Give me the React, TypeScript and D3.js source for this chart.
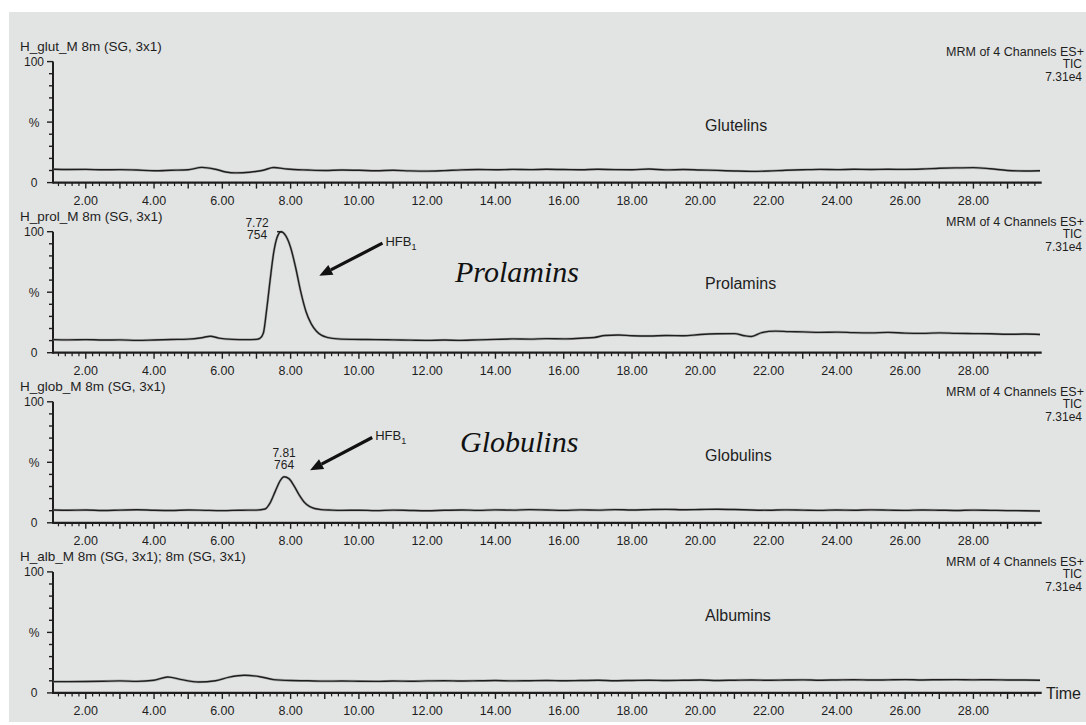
import React from "react";
import * as d3 from "d3";

type Pt = [number, number]; // [retention time (min), relative intensity (%)]

// ---- Trace data (time, %) ----
const glutelins: Pt[] = [
  [1.05, 11.0], [1.5, 10.8], [2.0, 10.9], [2.5, 10.6], [3.0, 10.7], [3.5, 10.4], [4.0, 9.8],
  [4.5, 10.2], [5.0, 10.6], [5.4, 12.6], [5.8, 11.0], [6.1, 8.8], [6.4, 8.0], [6.8, 8.6],
  [7.2, 10.2], [7.5, 12.5], [7.9, 11.2], [8.5, 10.4], [9.0, 10.0], [9.5, 10.4], [10.0, 10.2],
  [10.5, 9.8], [11.0, 10.2], [11.5, 9.7], [12.0, 9.5], [12.5, 9.9], [13.0, 10.5], [13.5, 10.8],
  [14.0, 10.6], [14.5, 10.9], [15.0, 10.7], [15.5, 11.0], [16.0, 10.8], [16.5, 10.6], [17.0, 11.0],
  [17.5, 10.7], [18.0, 10.6], [18.5, 11.2], [19.0, 10.5], [19.5, 10.8], [20.0, 10.4], [20.5, 10.1],
  [21.0, 9.6], [21.5, 9.3], [22.0, 9.6], [22.5, 10.2], [23.0, 10.6], [23.5, 10.9], [24.0, 10.7],
  [24.5, 11.0], [25.0, 10.8], [25.5, 11.0], [26.0, 10.9], [26.5, 11.2], [27.0, 11.8], [27.5, 12.2],
  [28.0, 12.4], [28.5, 11.4], [29.0, 10.0], [29.5, 9.6], [29.95, 9.8],
];

const prolamins: Pt[] = [
  [1.05, 10.8], [1.5, 10.6], [2.0, 10.8], [2.5, 10.5], [3.0, 10.6], [3.5, 10.2], [4.0, 10.5],
  [4.5, 10.9], [5.0, 11.2], [5.4, 12.4], [5.65, 13.6], [5.9, 12.0], [6.3, 11.0], [6.7, 10.8],
  [7.0, 11.0], [7.1, 11.8], [7.2, 16], [7.3, 36], [7.4, 60], [7.5, 82], [7.6, 95], [7.72, 100],
  [7.85, 97], [8.0, 87], [8.15, 70], [8.3, 50], [8.45, 34], [8.6, 24], [8.75, 18], [8.9, 14.5],
  [9.1, 12.5], [9.4, 11.4], [9.8, 11.0], [10.5, 10.8], [11.0, 10.6], [11.5, 10.4], [12.0, 10.2],
  [12.5, 10.5], [13.0, 10.2], [13.5, 10.6], [14.0, 11.0], [14.5, 11.4], [15.0, 11.2], [15.5, 11.6],
  [16.0, 11.4], [16.5, 12.0], [16.9, 12.6], [17.2, 14.2], [17.6, 14.6], [18.0, 14.0], [18.5, 13.8],
  [19.0, 14.2], [19.5, 14.0], [20.0, 15.0], [20.5, 15.6], [21.0, 15.8], [21.3, 14.0], [21.5, 13.4],
  [21.8, 16.6], [22.2, 17.8], [22.6, 17.4], [23.0, 17.2], [23.5, 16.8], [24.0, 17.0], [24.5, 16.6],
  [25.0, 16.4], [25.5, 16.8], [26.0, 16.2], [26.5, 16.0], [27.0, 16.4], [27.5, 16.0], [28.0, 15.8],
  [28.5, 15.6], [29.0, 15.2], [29.5, 15.4], [29.95, 15.0],
];

const globulins: Pt[] = [
  [1.05, 10.6], [1.5, 10.4], [2.0, 10.6], [2.5, 10.2], [3.0, 10.5], [3.5, 10.8], [4.0, 10.4],
  [4.5, 10.2], [5.0, 10.6], [5.5, 10.3], [6.0, 10.1], [6.5, 10.4], [7.0, 10.5], [7.25, 11.4],
  [7.4, 16.5], [7.55, 26], [7.7, 35], [7.81, 38], [7.95, 36.5], [8.1, 30.5], [8.25, 23],
  [8.4, 17], [8.55, 13.5], [8.7, 11.8], [8.9, 10.9], [9.2, 10.5], [9.5, 10.3], [10.0, 10.4],
  [10.5, 10.1], [11.0, 10.5], [11.5, 10.2], [12.0, 10.0], [12.5, 10.4], [13.0, 10.6], [13.5, 10.3],
  [14.0, 10.7], [14.5, 10.5], [15.0, 10.9], [15.5, 10.6], [16.0, 10.3], [16.5, 10.7], [17.0, 10.5],
  [17.5, 10.9], [18.0, 10.6], [18.5, 10.9], [19.0, 11.1], [19.5, 10.8], [20.0, 11.0], [20.5, 11.2],
  [21.0, 11.0], [21.5, 10.6], [22.0, 10.4], [22.5, 10.7], [23.0, 10.5], [23.5, 10.3], [24.0, 10.6],
  [24.5, 10.4], [25.0, 10.7], [25.5, 10.5], [26.0, 10.3], [26.5, 10.6], [27.0, 10.4], [27.5, 10.2],
  [28.0, 10.5], [28.5, 10.3], [29.0, 10.1], [29.5, 10.0], [29.95, 9.8],
];

const albumins: Pt[] = [
  [1.05, 9.3], [1.5, 9.3], [2.0, 9.4], [2.5, 9.6], [3.0, 9.9], [3.5, 9.5], [4.0, 10.4],
  [4.4, 13.2], [4.8, 11.0], [5.3, 9.0], [5.8, 10.0], [6.2, 13.0], [6.65, 14.6], [7.1, 13.4],
  [7.5, 11.0], [8.0, 10.2], [8.5, 10.0], [9.0, 9.7], [9.5, 9.8], [10.0, 9.6], [10.5, 9.5],
  [11.0, 9.8], [11.5, 9.6], [12.0, 9.9], [12.5, 10.1], [13.0, 9.8], [13.5, 10.0], [14.0, 10.2],
  [14.5, 9.9], [15.0, 10.1], [15.5, 10.3], [16.0, 10.0], [16.5, 10.2], [17.0, 10.4], [17.5, 10.1],
  [18.0, 10.3], [18.5, 10.5], [19.0, 10.2], [19.5, 10.4], [20.0, 10.6], [20.5, 10.3], [21.0, 10.5],
  [21.5, 10.7], [22.0, 10.4], [22.5, 10.6], [23.0, 10.8], [23.5, 10.5], [24.0, 10.7], [24.5, 10.9],
  [25.0, 10.6], [25.5, 10.8], [26.0, 11.0], [26.5, 10.7], [27.0, 10.9], [27.5, 11.0], [28.0, 10.8],
  [28.5, 10.9], [29.0, 10.7], [29.5, 10.6], [29.95, 10.5],
];

// ---- Axis / label data ----
const timeDomain: [number, number] = [1.04, 30.0];
const timeLabels = [2, 4, 6, 8, 10, 12, 14, 16, 18, 20, 22, 24, 26, 28];
const pctTicks = [0, 10, 20, 30, 40, 50, 60, 70, 80, 90, 100];
const pctLabels: [number, string][] = [[100, "100"], [50, "%"], [0, "0"]];
const headerLines = ["MRM of 4 Channels ES+", "TIC", "7.31e4"];

const channelTitles = [
  "H_glut_M 8m (SG, 3x1)",
  "H_prol_M 8m (SG, 3x1)",
  "H_glob_M 8m (SG, 3x1)",
  "H_alb_M 8m (SG, 3x1); 8m (SG, 3x1)",
];
const channelNames = ["Glutelins", "Prolamins", "Globulins", "Albumins"];
const channelTraces = [glutelins, prolamins, globulins, albumins];

// Peak apex annotations: [panel, time, %, intensity]
const peaks: [number, number, number, string][] = [
  [1, 7.72, 100, "754"],
  [2, 7.81, 38, "764"],
];
// HFB1 arrows: [panel, tailTime, tail%, tipTime, tip%]
const hfbArrows: [number, number, number, number, number][] = [
  [1, 10.69, 90.5, 8.84, 63.5],
  [2, 10.39, 70.5, 8.57, 43.5],
];
// Large italic fraction captions: [panel, text]
const fractionCaptions: [number, string][] = [
  [1, "Prolamins"],
  [2, "Globulins"],
];

// ---- Layout ----
const W = 1086;
const H = 725;
const AXIS0 = 182.6; // x-axis line of first panel
const STEP = 170.1; // vertical spacing between panels
const PLOT_H = 121;
const X0 = 53;
const X1 = 1041.7;
const nameOffsets = [52, 64, 62, 72];

const SANS = "'Liberation Sans', Arial, sans-serif";
const SERIF = "'Liberation Serif', 'Times New Roman', serif";
const INK = "#1e1e1e";

export default function App() {
  const x = d3.scaleLinear().domain(timeDomain).range([X0, X1]);
  const fmt = d3.format(".2f");
  const minorTicks = d3.range(1.2, 30.0, 0.2).filter((t) => Math.abs(t - Math.round(t)) > 0.05);
  const majorTicks = d3.range(2, 30, 1);

  return (
    <svg
      width={W}
      height={H}
      style={{ position: "absolute", left: 0, top: 0, display: "block" }}
      fontFamily={SANS}
    >
      <rect x={0} y={0} width={W} height={H} fill="#ffffff" />
      <rect x={9} y={12} width={W - 9} height={710} fill="#e2e4e3" />
      {channelTraces.map((trace, i) => {
        const base = AXIS0 + STEP * i;
        const y = d3.scaleLinear().domain([0, 100]).range([base, base - PLOT_H]);
        const line = d3
          .line<Pt>()
          .x((d) => x(d[0]))
          .y((d) => y(d[1]))
          .curve(d3.curveMonotoneX);
        return (
          <g key={i}>
            {/* channel title */}
            <text x={20} y={base - 132} fontSize={13.5} fill={INK}>
              {channelTitles[i]}
            </text>
            {/* right header */}
            {headerLines.map((s, k) => (
              <text
                key={k}
                x={k === 0 ? 1084 : 1082}
                y={base - 127 + k * 12.5}
                fontSize={k === 0 ? 12.5 : 12}
                textAnchor="end"
                fill={INK}
              >
                {s}
              </text>
            ))}
            {/* y axis */}
            <line x1={X0} x2={X0} y1={y(100)} y2={base + 1} stroke={INK} strokeWidth={2} />
            {pctTicks.map((p) => (
              <line
                key={p}
                x1={p % 50 === 0 ? X0 - 6 : X0 - 4}
                x2={X0}
                y1={y(p)}
                y2={y(p)}
                stroke={INK}
                strokeWidth={1.4}
              />
            ))}
            {pctLabels.map(([p, s]) => (
              <text
                key={s}
                x={34}
                y={y(p) + 4.5}
                fontSize={12}
                textAnchor="middle"
                fill={INK}
              >
                {s}
              </text>
            ))}
            {/* x axis */}
            <line x1={X0} x2={X1} y1={base} y2={base} stroke={INK} strokeWidth={2.2} />
            {minorTicks.map((t) => (
              <line key={"m" + t} x1={x(t)} x2={x(t)} y1={base} y2={base + 3.5} stroke={INK} strokeWidth={1.2} />
            ))}
            {majorTicks.map((t) => (
              <line key={"M" + t} x1={x(t)} x2={x(t)} y1={base} y2={base + 6} stroke={INK} strokeWidth={1.4} />
            ))}
            {timeLabels.map((t) => (
              <text key={"l" + t} x={x(t)} y={base + 22} fontSize={12.5} textAnchor="middle" fill={INK}>
                {fmt(t)}
              </text>
            ))}
            {/* trace */}
            <path d={line(trace) ?? ""} fill="none" stroke="#8a8a8a" strokeWidth={2.6} opacity={0.6} />
            <path d={line(trace) ?? ""} fill="none" stroke={INK} strokeWidth={1.4} />
            {/* channel name */}
            <text x={705} y={base - nameOffsets[i]} fontSize={16} fill={INK}>
              {channelNames[i]}
            </text>
            {i === 3 && (
              <text x={1046} y={base + 6} fontSize={16} fill={INK}>
                Time
              </text>
            )}
            {peaks
              .filter((p) => p[0] === i)
              .map(([, t, v, inten]) => {
                const px = x(t);
                const py = y(v);
                const atTop = v >= 95;
                const lx = atTop ? px - 24 : px;
                const ly1 = atTop ? py - 5 : py - 19.5;
                return (
                  <g key={"pk" + t}>
                    <text x={lx} y={ly1} fontSize={12} textAnchor="middle" fill={INK}>
                      {fmt(t)}
                    </text>
                    <text x={lx} y={ly1 + 12} fontSize={12} textAnchor="middle" fill={INK}>
                      {inten}
                    </text>
                    {atTop && (
                      <line x1={px - 4} x2={px + 1} y1={py} y2={py} stroke={INK} strokeWidth={1.5} />
                    )}
                  </g>
                );
              })}
            {hfbArrows
              .filter((a) => a[0] === i)
              .map(([, t0, v0, t1, v1]) => {
                const ax = x(t0);
                const ay = y(v0);
                const bx = x(t1);
                const by = y(v1);
                const ang = Math.atan2(by - ay, bx - ax);
                const hl = 13;
                const hw = 5.5;
                const sx = bx - hl * Math.cos(ang);
                const sy = by - hl * Math.sin(ang);
                const nx = -Math.sin(ang);
                const ny = Math.cos(ang);
                const head = `M${bx},${by}L${sx + nx * hw},${sy + ny * hw}L${sx - nx * hw},${sy - ny * hw}Z`;
                return (
                  <g key={"ar" + t0}>
                    <line x1={ax} y1={ay} x2={sx} y2={sy} stroke="#111" strokeWidth={3.2} />
                    <path d={head} fill="#111" />
                    <text x={ax + 3} y={ay + 3} fontSize={13} fill={INK}>
                      HFB
                      <tspan fontSize={9} dy={4}>
                        1
                      </tspan>
                    </text>
                  </g>
                );
              })}
            {fractionCaptions
              .filter((c) => c[0] === i)
              .map(([, s]) => (
                <text
                  key={s}
                  x={i === 1 ? 455 : 460}
                  y={base - 71}
                  fontSize={30}
                  fontStyle="italic"
                  fontFamily={SERIF}
                  fill="#111"
                >
                  {s}
                </text>
              ))}
          </g>
        );
      })}
    </svg>
  );
}
